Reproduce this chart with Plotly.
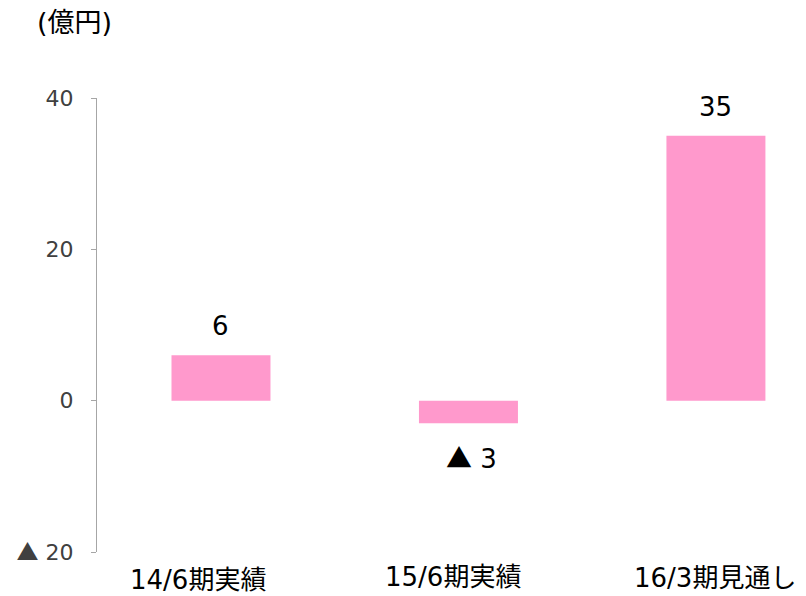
import plotly.graph_objects as go

categories = ["14/6期実績", "15/6期実績", "16/3期見通し"]
values = [6, -3, 35]
value_labels = ["6", "▲ 3", "35"]
tick_vals = [-20, 0, 20, 40]
tick_text = ["▲ 20", "0", "20", "40"]

FONT = "Verdana, DejaVu Sans, Noto Sans CJK JP, sans-serif"
TRI = '<span style="font-family:Noto Sans CJK JP">▲</span>'


def fmt(s):
    return s.replace("▲", TRI)


label_xshift = [-23, -15, -1]
label_yshift = [-28, -25, -26]

fig = go.Figure()
fig.add_trace(go.Bar(
    x=list(range(len(categories))), y=values, width=0.4,
    marker=dict(color="#FF99CC", line=dict(width=0)),
    hoverinfo="skip",
))

annotations = []
for i, (v, t) in enumerate(zip(values, value_labels)):
    annotations.append(dict(
        x=i, y=v, xref="x", yref="y", text=fmt(t), showarrow=False,
        yshift=29 if v >= 0 else -33,
        xshift=0 if v >= 0 else 3,
        font=dict(family=FONT, size=26, color="#000000"),
    ))
for i, c in enumerate(categories):
    annotations.append(dict(
        x=i, y=0, xref="x", yref="paper", text=c, showarrow=False,
        yanchor="middle", xshift=label_xshift[i], yshift=label_yshift[i],
        font=dict(family=FONT, size=26, color="#000000"),
    ))
annotations.append(dict(
    x=-0.0320, y=1.0, xref="paper", yref="paper", text="(億円)",
    showarrow=False, xanchor="center", yanchor="middle", yshift=76,
    font=dict(family=FONT, size=27, color="#000000"),
))

fig.update_layout(
    width=806, height=596,
    margin=dict(l=97, r=0, t=98, b=44),
    paper_bgcolor="white", plot_bgcolor="white",
    showlegend=False,
    xaxis=dict(range=[-0.501, 2.364], showticklabels=False, showgrid=False,
               zeroline=False, showline=False, ticks=""),
    yaxis=dict(range=[-20, 40], tickmode="array", tickvals=tick_vals,
               ticktext=[fmt(t) for t in tick_text], showgrid=False,
               zeroline=False,
               showline=True, linecolor="#A6A6A6", linewidth=1,
               ticks="outside", ticklen=5, tickcolor="#A6A6A6",
               ticklabelstandoff=13,
               tickfont=dict(family=FONT, size=22, color="#404040")),
    annotations=annotations,
)

fig.write_html("out.html")
